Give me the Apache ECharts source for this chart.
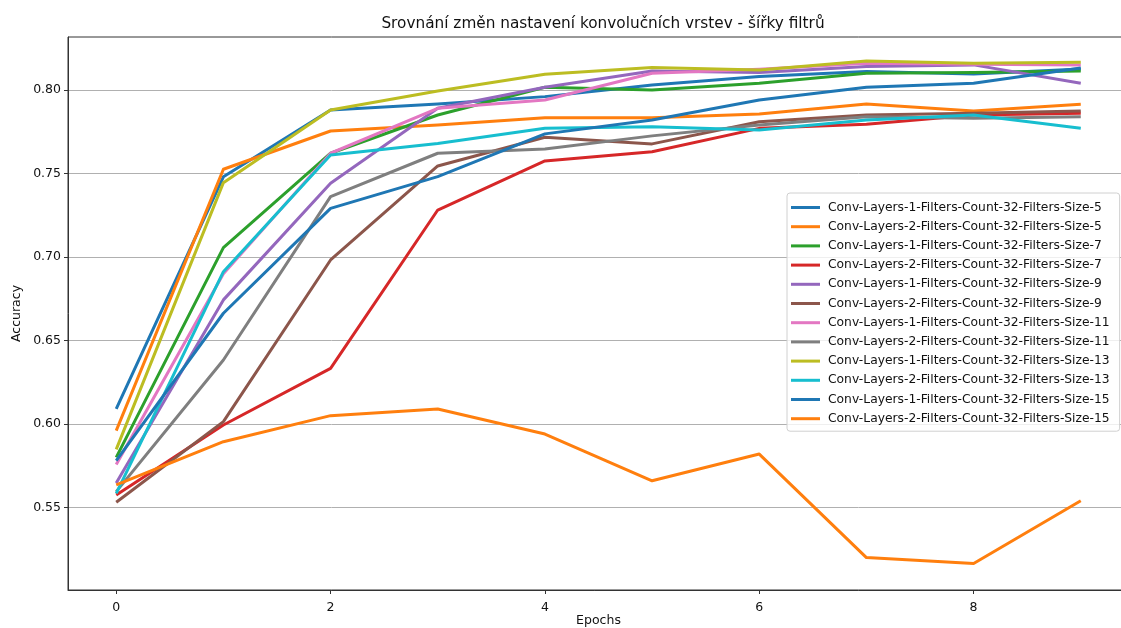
<!DOCTYPE html>
<html>
<head>
<meta charset="utf-8">
<script src="https://cdn.jsdelivr.net/npm/echarts@6/dist/echarts.min.js"></script>
<style>
  html, body { margin: 0; padding: 0; background: #fff; }
  #chart { width: 1121px; height: 628px; }
</style>
</head>
<body>
<div id="chart"></div>
<script>
const epochs = [0, 1, 2, 3, 4, 5, 6, 7, 8, 9];
const xTicks = [0, 2, 4, 6, 8];
const yTicks = [0.55, 0.60, 0.65, 0.70, 0.75, 0.80];

const seriesNames = [
  "Conv-Layers-1-Filters-Count-32-Filters-Size-5",
  "Conv-Layers-2-Filters-Count-32-Filters-Size-5",
  "Conv-Layers-1-Filters-Count-32-Filters-Size-7",
  "Conv-Layers-2-Filters-Count-32-Filters-Size-7",
  "Conv-Layers-1-Filters-Count-32-Filters-Size-9",
  "Conv-Layers-2-Filters-Count-32-Filters-Size-9",
  "Conv-Layers-1-Filters-Count-32-Filters-Size-11",
  "Conv-Layers-2-Filters-Count-32-Filters-Size-11",
  "Conv-Layers-1-Filters-Count-32-Filters-Size-13",
  "Conv-Layers-2-Filters-Count-32-Filters-Size-13",
  "Conv-Layers-1-Filters-Count-32-Filters-Size-15",
  "Conv-Layers-2-Filters-Count-32-Filters-Size-15"
];

const l1s5  = [0.609, 0.748, 0.788, 0.7916, 0.796, 0.803, 0.808, 0.811, 0.8095, 0.8125];
const l2s5  = [0.596, 0.7525, 0.7754, 0.779, 0.7834, 0.7834, 0.7856, 0.7916, 0.7874, 0.7914];
const l1s7  = [0.580, 0.7056, 0.7621, 0.785, 0.8016, 0.800, 0.804, 0.810, 0.8104, 0.8114];
const l2s7  = [0.5575, 0.5994, 0.6333, 0.7281, 0.7575, 0.763, 0.777, 0.7794, 0.785, 0.786];
const l1s9  = [0.5646, 0.6743, 0.7441, 0.789, 0.8016, 0.8114, 0.8104, 0.814, 0.815, 0.804];
const l2s9  = [0.5531, 0.6014, 0.6982, 0.7545, 0.7717, 0.7677, 0.781, 0.785, 0.786, 0.7874];
const l1s11 = [0.5758, 0.690, 0.7621, 0.789, 0.794, 0.810, 0.8124, 0.816, 0.8154, 0.815];
const l2s11 = [0.5595, 0.6383, 0.7361, 0.7621, 0.7647, 0.7725, 0.779, 0.784, 0.783, 0.784];
const l1s13 = [0.5848, 0.7445, 0.788, 0.7994, 0.8094, 0.8134, 0.812, 0.8174, 0.816, 0.8166];
const l2s13 = [0.5585, 0.6912, 0.761, 0.768, 0.777, 0.778, 0.776, 0.782, 0.785, 0.777];
const l1s15 = [0.578, 0.6663, 0.7291, 0.7481, 0.7737, 0.782, 0.794, 0.8016, 0.804, 0.8132];
const l2s15 = [0.5635, 0.5894, 0.605, 0.609, 0.594, 0.566, 0.582, 0.520, 0.5165, 0.554];

const seriesValues = [l1s5, l2s5, l1s7, l2s7, l1s9, l2s9, l1s11, l2s11, l1s13, l2s13, l1s15, l2s15];
const colors = ["#1f77b4", "#ff7f0e", "#2ca02c", "#d62728", "#9467bd", "#8c564b",
                "#e377c2", "#7f7f7f", "#bcbd22", "#17becf", "#1f77b4", "#ff7f0e"];

const FONT = "DejaVu Sans";
const chart = echarts.init(document.getElementById('chart'), null, { renderer: 'canvas' });

const series = seriesNames.map((name, i) => ({
  name: name,
  type: 'line',
  data: epochs.map((e, j) => [e, seriesValues[i][j]]),
  showSymbol: false,
  symbol: 'none',
  lineStyle: { width: 3, color: colors[i], cap: 'butt', join: 'round' },
  itemStyle: { color: colors[i] },
  emphasis: { disabled: true },
  clip: true
}));

chart.setOption({
  animation: false,
  backgroundColor: '#ffffff',
  title: {
    text: 'Srovnání změn nastavení konvolučních vrstev - šířky filtrů',
    left: 598,
    top: 12,
    textAlign: 'center',
    textStyle: { fontFamily: FONT, fontSize: 15.3, fontWeight: 'normal', color: '#111' }
  },
  grid: {
    left: 68, top: 37, right: -8, bottom: 38,
    show: true, borderColor: '#333', borderWidth: 1, backgroundColor: 'transparent',
    containLabel: false,
    outerBoundsMode: 'none'
  },
  legend: {
    orient: 'vertical',
    left: 787,
    top: 193,
    icon: 'rect',
    itemWidth: 29,
    itemHeight: 3,
    itemGap: 4.2,
    padding: [7, 10, 5, 4],
    backgroundColor: 'rgba(255,255,255,0.8)',
    borderColor: '#d0d0d0',
    borderWidth: 1,
    borderRadius: 3,
    selectedMode: false,
    textStyle: { fontFamily: FONT, fontSize: 12.3, color: '#111', lineHeight: 15, padding: [0, 0, 0, 3] },
    data: seriesNames
  },
  xAxis: {
    type: 'value',
    min: -0.45,
    max: 9.45,
    name: 'Epochs',
    nameLocation: 'middle',
    nameGap: 24,
    nameMoveOverlap: false,
    nameTextStyle: { fontFamily: FONT, fontSize: 12.5, color: '#111' },
    axisLine: { show: true, onZero: false, lineStyle: { color: '#333', width: 1 } },
    axisTick: { show: true, length: 4, customValues: xTicks, lineStyle: { color: '#333', width: 1 } },
    axisLabel: {
      customValues: xTicks, margin: 11,
      fontFamily: FONT, fontSize: 12.5, color: '#111',
      formatter: v => String(v)
    },
    splitLine: { show: false }
  },
  yAxis: {
    type: 'value',
    min: 0.5006,
    max: 0.8317,
    name: 'Accuracy',
    nameLocation: 'middle',
    nameGap: 45,
    nameMoveOverlap: false,
    nameRotate: 90,
    nameTextStyle: { fontFamily: FONT, fontSize: 12.5, color: '#111' },
    axisLine: { show: true, onZero: false, lineStyle: { color: '#333', width: 1 } },
    axisTick: { show: true, length: 4, customValues: yTicks, lineStyle: { color: '#333', width: 1 } },
    axisLabel: {
      customValues: yTicks, margin: 7,
      fontFamily: FONT, fontSize: 12.5, color: '#111',
      formatter: v => v.toFixed(2)
    },
    splitLine: { show: true, lineStyle: { color: '#b0b0b0', width: 1 } }
  },
  series: series
});
</script>
</body>
</html>
